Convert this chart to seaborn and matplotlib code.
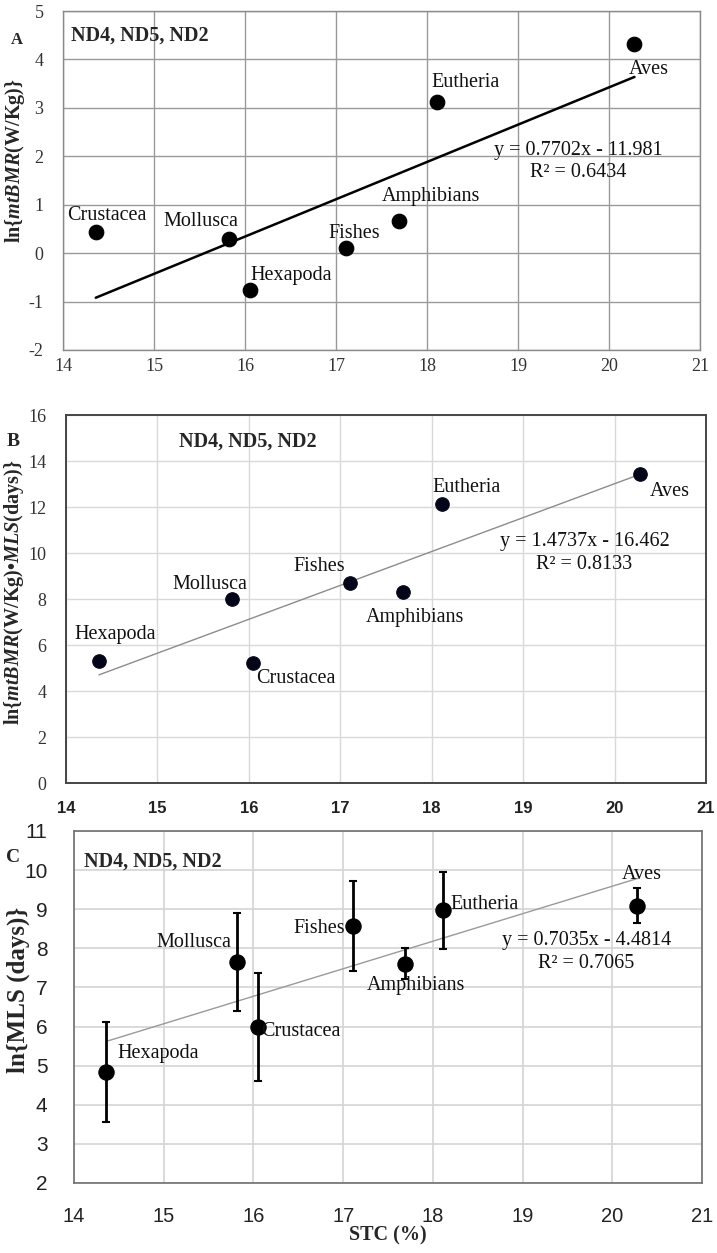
import seaborn as sns
import matplotlib.pyplot as plt
import pandas as pd
import numpy as np

# ----------------------------
# Data
# ----------------------------
stc = [14.36, 15.82, 16.05, 17.11, 17.69, 18.11, 20.28]

taxa_a = ["Crustacea", "Mollusca", "Hexapoda", "Fishes", "Amphibians", "Eutheria", "Aves"]
taxa_bc = ["Hexapoda", "Mollusca", "Crustacea", "Fishes", "Amphibians", "Eutheria", "Aves"]

ln_mtbmr = [0.44, 0.30, -0.76, 0.10, 0.67, 3.13, 4.31]
ln_mtbmr_mls = [5.31, 7.98, 5.22, 8.68, 8.30, 12.11, 13.42]
ln_mls = [4.83, 7.66, 5.98, 8.58, 7.61, 8.97, 9.09]
ln_mls_err = [1.28, 1.25, 1.38, 1.15, 0.40, 0.98, 0.45]

slopes = [0.7702, 1.4737, 0.7035]
intercepts = [-11.981, -16.462, -4.4814]
r2 = [0.6434, 0.8133, 0.7065]

# ----------------------------
# Style
# ----------------------------
sns.set_style("whitegrid")
plt.rcParams["font.family"] = ["Liberation Serif", "DejaVu Serif"]
plt.rcParams["axes.unicode_minus"] = False
plt.rcParams["mathtext.fontset"] = "custom"
plt.rcParams["mathtext.it"] = "Liberation Serif:italic:bold"
plt.rcParams["mathtext.rm"] = "Liberation Serif:bold"
plt.rcParams["mathtext.bf"] = "Liberation Serif:bold"

SERIF = "Liberation Serif"
SANS = "Liberation Sans"

W, H = 717, 1253
fig = plt.figure(figsize=(W / 100, H / 100), dpi=100)


def px_axes(l, t, r, b):
    return fig.add_axes([l / W, 1 - b / H, (r - l) / W, (b - t) / H])


ax_a = px_axes(63, 11, 700, 350)
ax_b = px_axes(66, 415, 706, 783)
ax_c = px_axes(74, 831, 702, 1183)


def label_points(ax, names, xs, ys, offsets):
    for name, x, y, (dx, dy) in zip(names, xs, ys, offsets):
        ax.annotate(name, (x, y), xytext=(dx, dy), textcoords="offset pixels",
                    ha="left", va="center", fontsize=14.5, family=SERIF,
                    color="#111111")


def fit_line(ax, i, color, lw):
    xf = np.array([min(stc), max(stc)])
    yf = slopes[i] * xf + intercepts[i]
    sns.lineplot(x=xf, y=yf, ax=ax, color=color, linewidth=lw)


def equation(ax, i, x, y1, y2):
    ax.text(x, y1, f"y = {slopes[i]}x - {abs(intercepts[i])}", ha="center",
            va="center", fontsize=14.5, family=SERIF, color="#111111")
    ax.text(x, y2, f"R² = {r2[i]}", ha="center", va="center",
            fontsize=14.5, family=SERIF, color="#111111")


# ----------------------------
# Panel A
# ----------------------------
fit_line(ax_a, 0, "black", 1.8)
sns.scatterplot(x=stc, y=ln_mtbmr, ax=ax_a, color="black", s=110,
                edgecolor="black", zorder=3)
label_points(ax_a, taxa_a, stc, ln_mtbmr,
             [(-29, 16), (-65, 17), (1, 14), (-18, 15), (-17, 24), (-6, 19), (-6, -25)])
equation(ax_a, 0, 19.66, 2.11, 1.66)
ax_a.set_xlim(14, 21)
ax_a.set_ylim(-2, 5)
ax_a.set_xticks(range(14, 22))
ax_a.set_yticks(range(-2, 6))
ax_a.grid(True, color="#9a9a9a", linewidth=1.0)
for s in ax_a.spines.values():
    s.set_color("#8a8a8a")
    s.set_linewidth(1.0)
ax_a.tick_params(axis="both", length=0, labelsize=13, labelcolor="#333333")
ax_a.tick_params(axis="y", pad=14)
ax_a.tick_params(axis="x", pad=6)
ax_a.set_ylabel(r"ln{$mtBMR$(W/Kg)}", fontsize=14.5, fontweight="bold",
                family=SERIF, va="center")
ax_a.yaxis.set_label_coords(-0.075, 0.56)
ax_a.text(0.013, 0.926, "ND4, ND5, ND2", transform=ax_a.transAxes,
          fontsize=14.5, fontweight="bold", family=SERIF, ha="left", va="center")
fig.text(17 / W, 1 - 40 / H, "A", fontsize=12, fontweight="bold", family=SERIF,
         ha="center", va="center")

# ----------------------------
# Panel B
# ----------------------------
fit_line(ax_b, 1, "#8c8c8c", 1.0)
sns.scatterplot(x=stc, y=ln_mtbmr_mls, ax=ax_b, color="#05051a", s=95,
                edgecolor="#05051a", zorder=3)
label_points(ax_b, taxa_bc, stc, ln_mtbmr_mls,
             [(-24, 26), (-60, 15), (3, -16), (-57, 17), (-38, -25), (-9, 17), (10, -17)])
equation(ax_b, 1, 19.67, 10.49, 9.52)
ax_b.set_xlim(14, 21)
ax_b.set_ylim(0, 16)
ax_b.set_xticks(range(14, 22))
ax_b.set_yticks(range(0, 17, 2))
ax_b.grid(True, color="#d9d9d9", linewidth=1.0)
for s in ax_b.spines.values():
    s.set_color("#454545")
    s.set_linewidth(1.4)
ax_b.tick_params(axis="both", length=5, color="#d9d9d9")
ax_b.tick_params(axis="y", pad=9, labelsize=13, labelcolor="#333333")
ax_b.tick_params(axis="x", pad=8, labelsize=12, labelcolor="#222222")
for t in ax_b.get_xticklabels():
    t.set_family(SANS)
    t.set_fontweight("bold")
ax_b.set_ylabel(r"ln{$mtBMR$(W/Kg)•$MLS$(days)}", fontsize=14.5,
                fontweight="bold", family=SERIF, va="center")
ax_b.yaxis.set_label_coords(-0.082, 0.52)
ax_b.text(0.177, 0.927, "ND4, ND5, ND2", transform=ax_b.transAxes,
          fontsize=14.5, fontweight="bold", family=SERIF, ha="left", va="center")
fig.text(13 / W, 1 - 442 / H, "B", fontsize=14, fontweight="bold", family=SERIF,
         ha="center", va="center")

# ----------------------------
# Panel C
# ----------------------------
fit_line(ax_c, 2, "#9a9a9a", 1.0)
ax_c.errorbar(stc, ln_mls, yerr=ln_mls_err, fmt="none", ecolor="black",
              elinewidth=2.0, capsize=3, capthick=1.5, zorder=2)
sns.scatterplot(x=stc, y=ln_mls, ax=ax_c, color="black", s=120,
                edgecolor="black", zorder=3)
label_points(ax_c, taxa_bc, stc, ln_mls,
             [(11, 19), (-81, 19), (3, -4), (-60, -3), (-38, -22), (8, 6), (-16, 31)])
equation(ax_c, 2, 19.71, 8.19, 7.61)
ax_c.set_xlim(14, 21)
ax_c.set_ylim(2, 11)
ax_c.set_xticks(range(14, 22))
ax_c.set_yticks(range(2, 12))
ax_c.grid(True, color="#d4d4d4", linewidth=1.2)
for s in ax_c.spines.values():
    s.set_color("#707070")
    s.set_linewidth(1.2)
ax_c.tick_params(axis="both", length=5, color="#d4d4d4", labelcolor="#222222")
ax_c.tick_params(axis="y", pad=14, labelsize=15)
ax_c.tick_params(axis="x", pad=12, labelsize=14.5)
for t in ax_c.get_xticklabels() + ax_c.get_yticklabels():
    t.set_family(SANS)
ax_c.set_ylabel("ln{MLS (days)}", fontsize=18, fontweight="bold",
                family=SERIF, va="center")
ax_c.yaxis.set_label_coords(-0.089, 0.548)
ax_c.set_xlabel("STC (%)", fontsize=14.5, fontweight="bold", family=SERIF,
                va="center")
ax_c.xaxis.set_label_coords(0.5, -0.15)
ax_c.text(0.016, 0.912, "ND4, ND5, ND2", transform=ax_c.transAxes,
          fontsize=14.5, fontweight="bold", family=SERIF, ha="left", va="center")
fig.text(13 / W, 1 - 858 / H, "C", fontsize=14, fontweight="bold", family=SERIF,
         ha="center", va="center")

# ----------------------------
# Save
# ----------------------------
fig.savefig("out.png", dpi=100)
plt.close(fig)
